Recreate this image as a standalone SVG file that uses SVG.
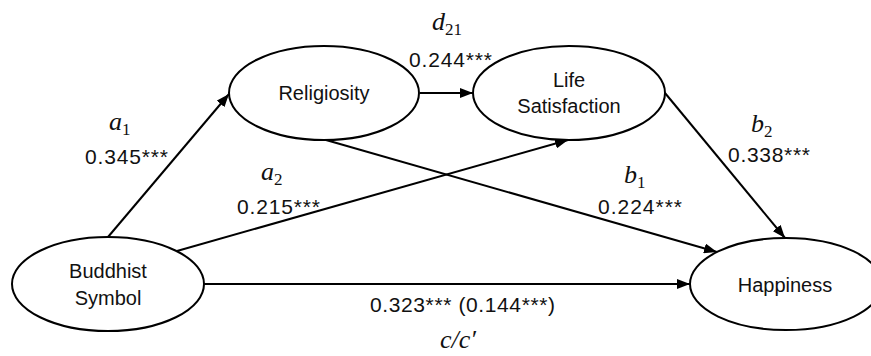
<svg xmlns="http://www.w3.org/2000/svg" width="871" height="356" viewBox="0 0 871 356">
<style>
.node ellipse{fill:#fff;stroke:#000;stroke-width:2}
.lbl{font-family:"Liberation Sans",Arial,sans-serif;font-size:20px;fill:#111;text-anchor:middle}
.num{font-family:"Liberation Sans",Arial,sans-serif;font-size:21px;fill:#111;text-anchor:start}
.math{font-family:"Liberation Serif","Times New Roman",serif;font-size:26px;font-style:italic;fill:#111;text-anchor:start}
.sub{font-style:normal;font-size:17px}
#connectors line{stroke:#000;stroke-width:2;fill:none;marker-end:url(#arr)}
</style>
<defs>
<marker id="arr" markerUnits="userSpaceOnUse" markerWidth="13" markerHeight="10" refX="13" refY="5" orient="auto">
<path d="M0,0 L13,5 L0,10 z" fill="#000"/>
</marker>
</defs>
<rect width="871" height="356" fill="#fff"/>
<g id="connectors">
<line x1="108" y1="237" x2="229" y2="94"/>
<line x1="177" y1="251" x2="568" y2="140"/>
<line x1="203" y1="284" x2="690" y2="284"/>
<line x1="420" y1="93" x2="473" y2="93"/>
<line x1="326" y1="140" x2="717" y2="252"/>
<line x1="665" y1="93" x2="785" y2="238"/>
</g>
<g id="religiosity" class="node">
<ellipse cx="324" cy="93" rx="95" ry="47"/>
<text class="lbl" x="324" y="100">Religiosity</text>
</g>
<g id="life-satisfaction" class="node">
<ellipse cx="569" cy="93" rx="96" ry="47"/>
<text class="lbl" x="569" y="87">Life</text>
<text class="lbl" x="569" y="113">Satisfaction</text>
</g>
<g id="buddhist-symbol" class="node">
<ellipse cx="108" cy="284" rx="96" ry="47"/>
<text class="lbl" x="108" y="278">Buddhist</text>
<text class="lbl" x="108" y="305">Symbol</text>
</g>
<g id="happiness" class="node">
<ellipse cx="786" cy="284" rx="96" ry="46"/>
<text class="lbl" x="785" y="292">Happiness</text>
</g>
<g id="labels">
<text class="math" x="432" y="30">d<tspan class="sub" dy="5">21</tspan></text>
<text class="num" x="409" y="67" textLength="83">0.244***</text>
<text class="math" x="109" y="130">a<tspan class="sub" dy="5">1</tspan></text>
<text class="num" x="85" y="164" textLength="83">0.345***</text>
<text class="math" x="261" y="180">a<tspan class="sub" dy="5">2</tspan></text>
<text class="num" x="237" y="214" textLength="83">0.215***</text>
<text class="math" x="624" y="183">b<tspan class="sub" dy="5">1</tspan></text>
<text class="num" x="598" y="214" textLength="84">0.224***</text>
<text class="math" x="751" y="132">b<tspan class="sub" dy="5">2</tspan></text>
<text class="num" x="728" y="162" textLength="82">0.338***</text>
<text class="num" x="370" y="312" textLength="185">0.323*** (0.144***)</text>
<text class="math" x="440" y="348">c/c′</text>
</g>
</svg>
